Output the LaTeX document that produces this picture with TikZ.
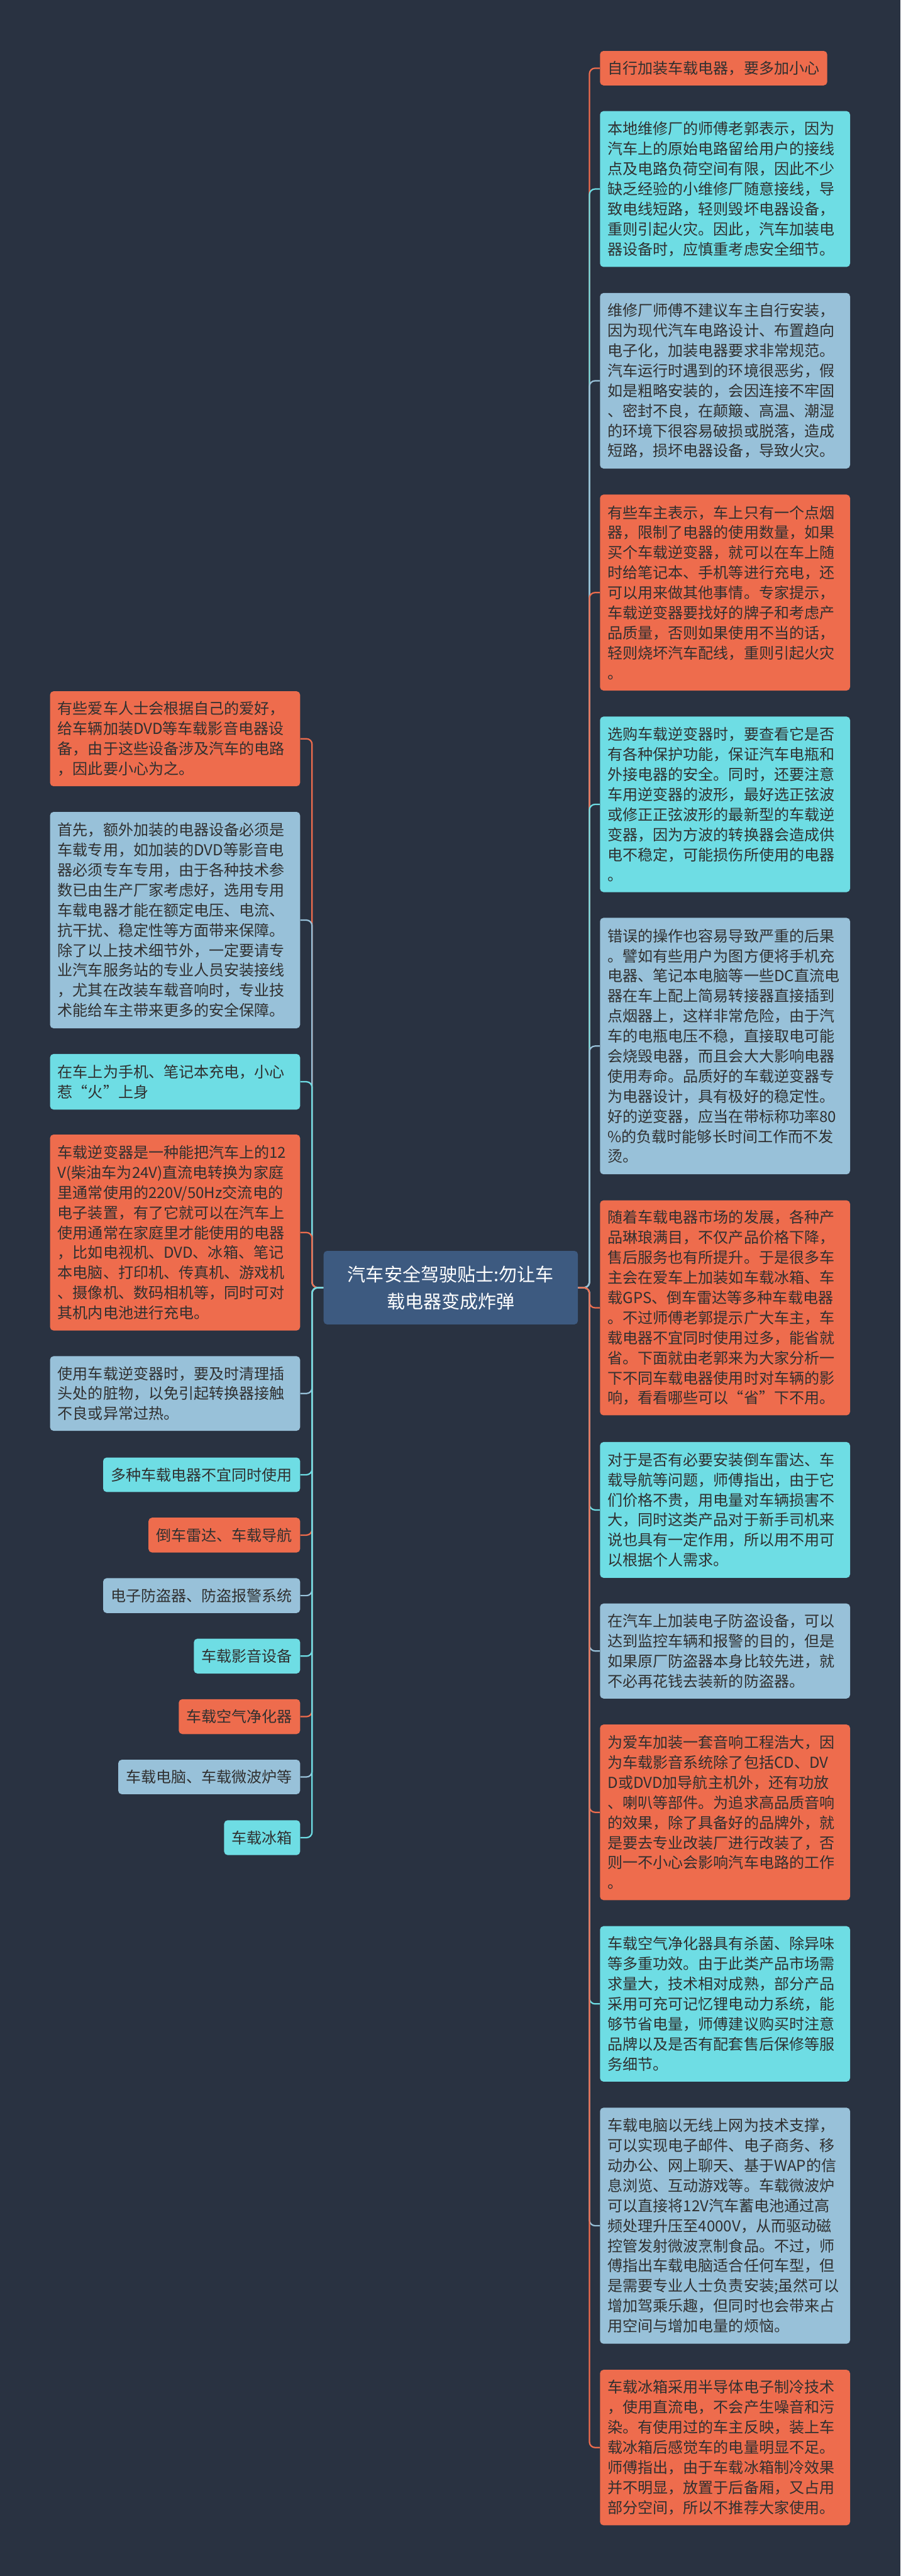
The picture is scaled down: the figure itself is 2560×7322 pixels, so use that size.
\documentclass[tikz,border=0pt]{standalone}
\usepackage{fontspec}
\setmainfont{Noto Sans CJK SC}
\definecolor{bgc}{HTML}{293241}
\definecolor{hub}{HTML}{3D5A80}
\definecolor{org}{HTML}{EE6C4D}
\definecolor{cyn}{HTML}{6EDDE4}
\definecolor{lbl}{HTML}{98C1D9}
\definecolor{txt}{HTML}{303030}
\begin{document}
\begin{tikzpicture}[x=0.25pt,y=-0.25pt,
  box/.style={rounded corners=2.5pt, inner xsep=5.5pt, inner ysep=0pt,
    font=\fontsize{10.75pt}{14.25pt}\selectfont, text=txt, align=left},
  wide/.style={box, text width=166.75pt},
  hh/.style={minimum height=#1*0.25pt},
  conn/.style={line width=1pt, rounded corners=4pt},
  rt/.style={anchor=north west},
  lt/.style={anchor=north east}]
\fill[bgc] (0,0) rectangle (2560,7322);
\useasboundingbox (0,0) rectangle (2560,7322);

% central topic
\node[fill=hub, rounded corners=2.5pt, minimum width=180.75pt, minimum height=52.25pt,
  inner sep=0pt, text=white, font=\fontsize{13pt}{19.25pt}\selectfont, align=center]
  (c) at (1281.5,3660) {汽车安全驾驶贴士:勿让车\\载电器变成炸弹};

% right side
\node[box, rt, fill=org, hh=98] (r1) at (1705,144) {自行加装车载电器，要多加小心};
\node[wide, rt, fill=cyn, hh=443] (r2) at (1705,315) {本地维修厂的师傅老郭表示，因为\\汽车上的原始电路留给用户的接线\\点及电路负荷空间有限，因此不少\\缺乏经验的小维修厂随意接线，导\\致电线短路，轻则毁坏电器设备，\\重则引起火灾。因此，汽车加装电\\器设备时，应慎重考虑安全细节。};
\node[wide, rt, fill=lbl, hh=499] (r3) at (1705,832) {维修厂师傅不建议车主自行安装，\\因为现代汽车电路设计、布置趋向\\电子化，加装电器要求非常规范。\\汽车运行时遇到的环境很恶劣，假\\如是粗略安装的，会因连接不牢固\\、密封不良，在颠簸、高温、潮湿\\的环境下很容易破损或脱落，造成\\短路，损坏电器设备，导致火灾。};
\node[wide, rt, fill=org, hh=557] (r4) at (1705,1405) {有些车主表示，车上只有一个点烟\\器，限制了电器的使用数量，如果\\买个车载逆变器，就可以在车上随\\时给笔记本、手机等进行充电，还\\可以用来做其他事情。专家提示，\\车载逆变器要找好的牌子和考虑产\\品质量，否则如果使用不当的话，\\轻则烧坏汽车配线，重则引起火灾\\。};
\node[wide, rt, fill=cyn, hh=499] (r5) at (1705,2036) {选购车载逆变器时，要查看它是否\\有各种保护功能，保证汽车电瓶和\\外接电器的安全。同时，还要注意\\车用逆变器的波形，最好选正弦波\\或修正正弦波形的最新型的车载逆\\变器，因为方波的转换器会造成供\\电不稳定，可能损伤所使用的电器\\。};
\node[wide, rt, fill=lbl, hh=729] (r6) at (1705,2608) {错误的操作也容易导致严重的后果\\。譬如有些用户为图方便将手机充\\电器、笔记本电脑等一些DC直流电\\器在车上配上简易转接器直接插到\\点烟器上，这样非常危险，由于汽\\车的电瓶电压不稳，直接取电可能\\会烧毁电器，而且会大大影响电器\\使用寿命。品质好的车载逆变器专\\为电器设计，具有极好的稳定性。\\好的逆变器，应当在带标称功率80\\\%的负载时能够长时间工作而不发\\烫。};
\node[wide, rt, fill=org, hh=611] (r7) at (1705,3411) {随着车载电器市场的发展，各种产\\品琳琅满目，不仅产品价格下降，\\售后服务也有所提升。于是很多车\\主会在爱车上加装如车载冰箱、车\\载GPS、倒车雷达等多种车载电器\\。不过师傅老郭提示广大车主，车\\载电器不宜同时使用过多，能省就\\省。下面就由老郭来为大家分析一\\下不同车载电器使用时对车辆的影\\响，看看哪些可以“省”下不用。};
\node[wide, rt, fill=cyn, hh=386] (r8) at (1705,4098) {对于是否有必要安装倒车雷达、车\\载导航等问题，师傅指出，由于它\\们价格不贵，用电量对车辆损害不\\大，同时这类产品对于新手司机来\\说也具有一定作用，所以用不用可\\以根据个人需求。};
\node[wide, rt, fill=lbl, hh=270] (r9) at (1705,4557) {在汽车上加装电子防盗设备，可以\\达到监控车辆和报警的目的，但是\\如果原厂防盗器本身比较先进，就\\不必再花钱去装新的防盗器。};
\node[wide, rt, fill=org, hh=499] (r10) at (1705,4901) {为爱车加装一套音响工程浩大，因\\为车载影音系统除了包括CD、DV\\D或DVD加导航主机外，还有功放\\、喇叭等部件。为追求高品质音响\\的效果，除了具备好的品牌外，就\\是要去专业改装厂进行改装了，否\\则一不小心会影响汽车电路的工作\\。};
\node[wide, rt, fill=cyn, hh=442] (r11) at (1705,5474) {车载空气净化器具有杀菌、除异味\\等多重功效。由于此类产品市场需\\求量大，技术相对成熟，部分产品\\采用可充可记忆锂电动力系统，能\\够节省电量，师傅建议购买时注意\\品牌以及是否有配套售后保修等服\\务细节。};
\node[wide, rt, fill=lbl, hh=671] (r12) at (1705,5990) {车载电脑以无线上网为技术支撑，\\可以实现电子邮件、电子商务、移\\动办公、网上聊天、基于WAP的信\\息浏览、互动游戏等。车载微波炉\\可以直接将12V汽车蓄电池通过高\\频处理升压至4000V，从而驱动磁\\控管发射微波烹制食品。不过，师\\傅指出车载电脑适合任何车型，但\\是需要专业人士负责安装;虽然可以\\增加驾乘乐趣，但同时也会带来占\\用空间与增加电量的烦恼。};
\node[wide, rt, fill=org, hh=442] (r13) at (1705,6735) {车载冰箱采用半导体电子制冷技术\\，使用直流电，不会产生噪音和污\\染。有使用过的车主反映，装上车\\载冰箱后感觉车的电量明显不足。\\师傅指出，由于车载冰箱制冷效果\\并不明显，放置于后备厢，又占用\\部分空间，所以不推荐大家使用。};

% left side
\node[wide, lt, fill=org, hh=270] (l1) at (854,1964) {有些爱车人士会根据自己的爱好，\\给车辆加装DVD等车载影音电器设\\备，由于这些设备涉及汽车的电路\\，因此要小心为之。};
\node[wide, lt, fill=lbl, hh=615] (l2) at (854,2307) {首先，额外加装的电器设备必须是\\车载专用，如加装的DVD等影音电\\器必须专车专用，由于各种技术参\\数已由生产厂家考虑好，选用专用\\车载电器才能在额定电压、电流、\\抗干扰、稳定性等方面带来保障。\\除了以上技术细节外，一定要请专\\业汽车服务站的专业人员安装接线\\，尤其在改装车载音响时，专业技\\术能给车主带来更多的安全保障。};
\node[wide, lt, fill=cyn, hh=158] (l3) at (854,2995) {在车上为手机、笔记本充电，小心\\惹“火”上身};
\node[wide, lt, fill=org, hh=557] (l4) at (854,3224) {车载逆变器是一种能把汽车上的12\\V(柴油车为24V)直流电转换为家庭\\里通常使用的220V/50Hz交流电的\\电子装置，有了它就可以在汽车上\\使用通常在家庭里才能使用的电器\\，比如电视机、DVD、冰箱、笔记\\本电脑、打印机、传真机、游戏机\\、摄像机、数码相机等，同时可对\\其机内电池进行充电。};
\node[wide, lt, fill=lbl, hh=212] (l5) at (854,3854) {使用车载逆变器时，要及时清理插\\头处的脏物，以免引起转换器接触\\不良或异常过热。};
\node[box, lt, fill=cyn, hh=98] (s1) at (854,4142) {多种车载电器不宜同时使用};
\node[box, lt, fill=org, hh=99] (s2) at (854,4313) {倒车雷达、车载导航};
\node[box, lt, fill=lbl, hh=99] (s3) at (854,4485) {电子防盗器、防盗报警系统};
\node[box, lt, fill=cyn, hh=99] (s4) at (854,4657) {车载影音设备};
\node[box, lt, fill=org, hh=99] (s5) at (854,4829) {车载空气净化器};
\node[box, lt, fill=lbl, hh=98] (s6) at (854,5001) {车载电脑、车载微波炉等};
\node[box, lt, fill=cyn, hh=99] (s7) at (854,5173) {车载冰箱};

% connectors
\foreach \n/\k in {r1/org,r2/cyn,r3/lbl,r4/org,r5/cyn,r6/lbl,r7/org,r8/cyn,r9/lbl,r10/org,r11/cyn,r12/lbl,r13/org}
  \draw[conn, \k] (c.east) -- ++(32,0) |- (\n.west);
\foreach \n/\k in {l1/org,l2/lbl,l3/cyn,l4/org,l5/lbl,s1/cyn,s2/org,s3/lbl,s4/cyn,s5/org,s6/lbl,s7/cyn}
  \draw[conn, \k] (c.west) -- ++(-32,0) |- (\n.east);
\end{tikzpicture}
\end{document}
